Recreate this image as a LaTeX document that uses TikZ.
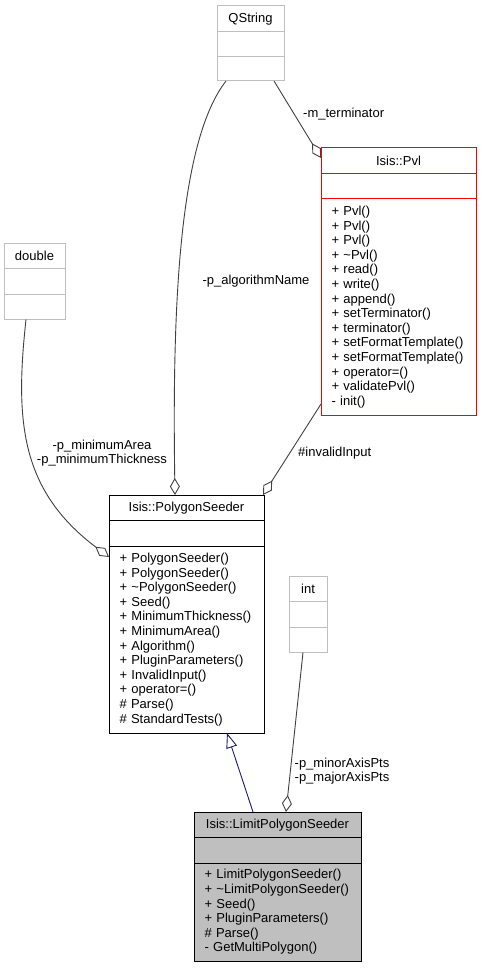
\documentclass[tikz,border=0pt]{standalone}
\usepackage{fontspec}
\setmainfont{Liberation Sans}
\usetikzlibrary{positioning,arrows.meta}
\definecolor{edgegrey}{HTML}{404040}
\definecolor{boxgrey}{HTML}{BFBFBF}
\definecolor{inherit}{HTML}{191970}

\begin{document}
\begin{tikzpicture}[x=1pt,y=-1pt,node distance=0pt,
  font=\fontsize{13}{14.6}\selectfont,
  part/.style={draw,rectangle,inner sep=0pt,outer sep=0pt,line width=1pt,minimum height=25.5pt},
  ops/.style={part,align=left,inner xsep=10.5pt,text width=#1},
  lbl/.style={inner sep=0pt,align=center},
  agg/.style={draw=edgegrey,line width=0.9pt,-{Diamond[open,length=17pt,width=10pt]}},
  isa/.style={draw=inherit,line width=0.9pt,-{Triangle[open,length=15pt,width=11pt]}}]
  \useasboundingbox (0,0) rectangle (481,968);

  % plain types
  \node[part,draw=boxgrey,minimum width=67pt,anchor=north] (qstring) at (250.5,6) {QString};
  \node[part,draw=boxgrey,minimum width=67pt] (qstring_a) [below=of qstring] {};
  \node[part,draw=boxgrey,minimum width=67pt,minimum height=24pt] (qstring_o) [below=of qstring_a] {};

  \node[part,draw=boxgrey,minimum width=61pt,anchor=north] (double) at (34.5,243) {double};
  \node[part,draw=boxgrey,minimum width=61pt] (double_a) [below=of double] {};
  \node[part,draw=boxgrey,minimum width=61pt] (double_o) [below=of double_a] {};

  \node[part,draw=boxgrey,minimum width=38pt,anchor=north] (int) at (308,576) {int};
  \node[part,draw=boxgrey,minimum width=38pt] (int_a) [below=of int] {};
  \node[part,draw=boxgrey,minimum width=38pt] (int_o) [below=of int_a] {};

  % classes
  \node[part,draw=red,minimum width=155pt,anchor=north] (pvl) at (398.5,148) {Isis::Pvl};
  \node[part,draw=red,minimum width=155pt] (pvl_a) [below=of pvl] {};
  \node[ops=134pt,draw=red,minimum height=216pt] (pvl_o) [below=of pvl_a]
    {+ Pvl()\\+ Pvl()\\+ Pvl()\\+ \textasciitilde Pvl()\\+ read()\\+ write()\\+ append()\\
     + setTerminator()\\+ terminator()\\+ setFormatTemplate()\\+ setFormatTemplate()\\
     + operator=()\\+ validatePvl()\\- init()};

  \node[part,minimum width=155pt,anchor=north] (seeder) at (186.5,495) {Isis::PolygonSeeder};
  \node[part,minimum width=155pt] (seeder_a) [below=of seeder] {};
  \node[ops=134pt,minimum height=187pt] (seeder_o) [below=of seeder_a]
    {+ PolygonSeeder()\\+ PolygonSeeder()\\+ \textasciitilde PolygonSeeder()\\+ Seed()\\
     + MinimumThickness()\\+ MinimumArea()\\+ Algorithm()\\+ PluginParameters()\\
     + InvalidInput()\\+ operator=()\\\# Parse()\\\# StandardTests()};

  \node[part,fill=boxgrey,minimum width=167pt,anchor=north] (limit) at (277.5,812) {Isis::LimitPolygonSeeder};
  \node[part,fill=boxgrey,minimum width=167pt] (limit_a) [below=of limit] {};
  \node[ops=146pt,fill=boxgrey,minimum height=98pt] (limit_o) [below=of limit_a]
    {+ LimitPolygonSeeder()\\+ \textasciitilde LimitPolygonSeeder()\\+ Seed()\\
     + PluginParameters()\\\# Parse()\\- GetMultiPolygon()};

  % connectors
  \draw[agg] ([xshift=23.5pt]qstring_o.south) -- ([yshift=-10pt]pvl.north west);
  \draw[agg] ([xshift=-24.5pt]qstring_o.south) .. controls (180,140) and (172,300) .. (seeder.north -| 175,0);
  \draw[agg] ([xshift=-8.5pt]double_o.south) .. controls (15,420) and (20,490) .. ([yshift=-62pt]seeder.north west);
  \draw[agg] ([yshift=11pt]pvl_o.south west) -- ([xshift=-1pt]seeder.north east);
  \draw[agg] ([xshift=-5pt]int_o.south) -- ([xshift=8.5pt]limit.north);
  \draw[isa] ([xshift=-24.5pt]limit.north) -- ([xshift=40.5pt]seeder_o.south);

  % labels
  \node[lbl,anchor=west] (term_lbl) at (303,114) {-m\_terminator};
  \node[lbl] (name_lbl) at (256,281) {-p\_algorithmName};
  \node[lbl] (min_lbl) at (102,453) {-p\_minimumArea\\-p\_minimumThickness};
  \node[lbl,anchor=west] (inv_lbl) at (298,453) {\#invalidInput};
  \node[lbl] (axis_lbl) at (342,771) {-p\_minorAxisPts\\-p\_majorAxisPts};
\end{tikzpicture}
\end{document}
